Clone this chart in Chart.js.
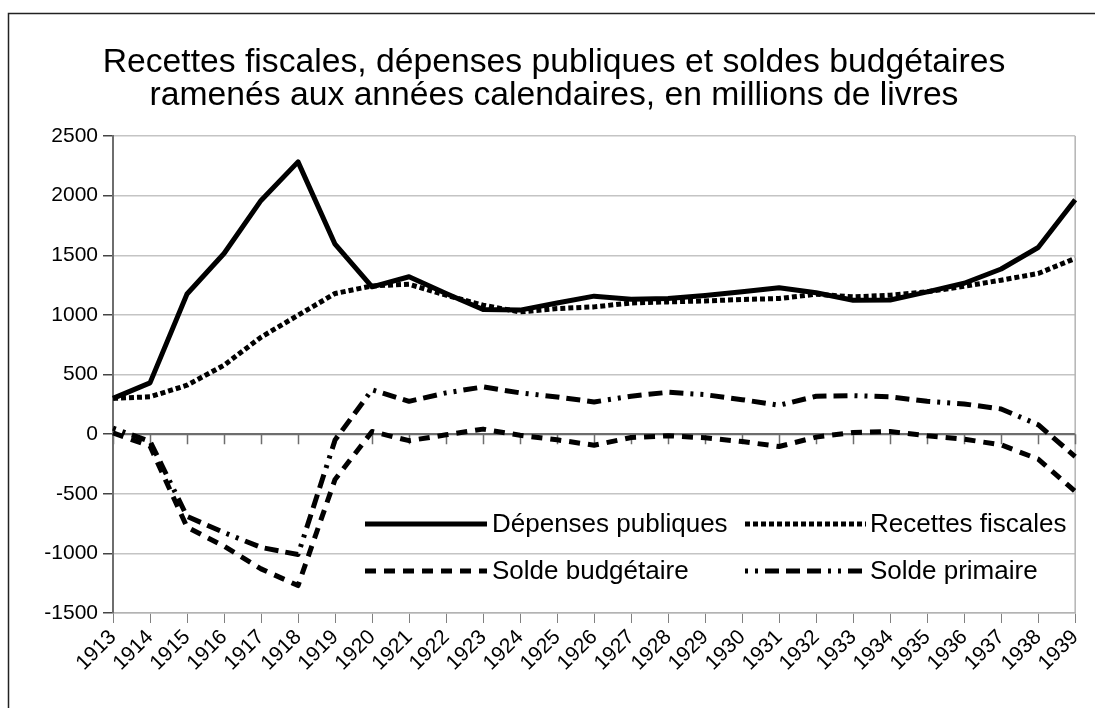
<!DOCTYPE html>
<html><head><meta charset="utf-8">
<script src="https://cdn.jsdelivr.net/npm/chart.js@4/dist/chart.umd.min.js"></script>
<style>html,body{margin:0;padding:0;background:#fff;overflow:hidden;}</style>
</head><body>
<canvas id="c" width="1095" height="708"></canvas>
<script>
const years = ['1913','1914','1915','1916','1917','1918','1919','1920','1921','1922','1923','1924','1925','1926','1927','1928','1929','1930','1931','1932','1933','1934','1935','1936','1937','1938','1939'];
const depenses = [300, 430, 1175, 1515, 1960, 2283, 1593, 1235, 1320, 1180, 1045, 1040, 1100, 1157, 1131, 1137, 1162, 1193, 1227, 1185, 1123, 1125, 1193, 1265, 1385, 1565, 1965];
const recettes = [300, 313, 410, 578, 813, 997, 1179, 1243, 1257, 1165, 1081, 1025, 1053, 1067, 1100, 1109, 1117, 1129, 1137, 1173, 1151, 1165, 1193, 1240, 1291, 1347, 1473];
const soldeBudgetaire = [10, -100, -780, -940, -1130, -1270, -380, 22, -55, -6, 42, -10, -48, -93, -28, -14, -31, -62, -104, -25, 14, 22, -14, -42, -90, -210, -480];
const soldePrimaire = [50, -60, -690, -825, -950, -1010, -50, 372, 275, 346, 396, 346, 312, 270, 318, 351, 331, 289, 242, 318, 323, 312, 275, 253, 211, 79, -188];
const seriesNames = ['Dépenses publiques', 'Recettes fiscales', 'Solde budgétaire', 'Solde primaire'];
const titleLines = ['Recettes fiscales, dépenses publiques et soldes budgétaires', 'ramenés aux années calendaires, en millions de livres'];
const yTicks = [-1500, -1000, -500, 0, 500, 1000, 1500, 2000, 2500];

const FONT = "'Liberation Sans', Arial, sans-serif";
const dashes = [[], [5, 3], [11, 8], [3, 7, 3, 7, 14, 7, 14, 7, 14, 7]];

const framePlugin = {
  id: 'frame',
  beforeDraw(chart) {
    const ctx = chart.ctx;
    ctx.save();
    ctx.fillStyle = '#fff';
    ctx.fillRect(0, 0, chart.width, chart.height);
    ctx.strokeStyle = '#222';
    ctx.lineWidth = 1.5;
    ctx.beginPath();
    ctx.moveTo(8.5, chart.height);
    ctx.lineTo(8.5, 13.5);
    ctx.lineTo(chart.width, 13.5);
    ctx.stroke();
    // title
    ctx.fillStyle = '#000';
    ctx.font = '33.7px ' + FONT;
    ctx.textAlign = 'center';
    ctx.textBaseline = 'middle';
    titleLines.forEach((t, i) => ctx.fillText(t, 554, 62.5 + i * 33));
    ctx.restore();
  },
  beforeDatasetsDraw(chart) {
    const ctx = chart.ctx, a = chart.chartArea, x = chart.scales.x, y = chart.scales.y;
    ctx.save();
    ctx.strokeStyle = '#b3b3b3';
    ctx.lineWidth = 1.5;
    ctx.beginPath();
    ctx.moveTo(a.right, a.top);
    ctx.lineTo(a.right, a.bottom);
    ctx.stroke();
    const y0 = y.getPixelForValue(0);
    ctx.strokeStyle = '#6e6e6e';
    ctx.lineWidth = 2;
    ctx.beginPath();
    ctx.moveTo(a.left, y0);
    ctx.lineTo(a.right, y0);
    ctx.stroke();
    ctx.lineWidth = 1.5;
    ctx.beginPath();
    for (let i = 0; i < years.length; i++) {
      const px = Math.round(x.getPixelForValue(i)) + 0.5;
      ctx.moveTo(px, y0);
      ctx.lineTo(px, y0 + 10);
    }
    ctx.stroke();
    ctx.restore();
  },
  afterDraw(chart) {
    const ctx = chart.ctx;
    ctx.save();
    ctx.font = '26px ' + FONT;
    ctx.textBaseline = 'middle';
    ctx.fillStyle = '#000';
    const cols = [[365, 487, 492], [745, 866, 870]];
    const rows = [524, 571];
    chart.data.datasets.forEach((ds, i) => {
      const c = cols[i % 2], r = rows[Math.floor(i / 2)];
      ctx.strokeStyle = ds.borderColor;
      ctx.lineWidth = ds.borderWidth;
      ctx.setLineDash(ds.borderDash || []);
      ctx.lineCap = 'butt';
      ctx.beginPath();
      ctx.moveTo(c[0], r);
      ctx.lineTo(c[1], r);
      ctx.stroke();
      ctx.setLineDash([]);
      ctx.fillText(ds.label, c[2], r + 1);
    });
    ctx.restore();
  }
};

const datasets = [depenses, recettes, soldeBudgetaire, soldePrimaire].map((d, i) => ({
  label: seriesNames[i],
  data: d,
  borderColor: '#000',
  backgroundColor: '#000',
  borderWidth: 5,
  borderDash: dashes[i],
  borderCapStyle: 'butt',
  borderJoinStyle: 'round',
  pointRadius: 0,
  tension: 0,
  fill: false
}));

new Chart(document.getElementById('c'), {
  type: 'line',
  data: { labels: years, datasets },
  options: {
    responsive: false,
    animation: false,
    devicePixelRatio: 1,
    layout: { padding: { left: 0, right: 16, top: 136, bottom: 0 } },
    plugins: {
      legend: { display: false },
      tooltip: { enabled: false },
      title: { display: false }
    },
    scales: {
      x: {
        offset: false,
        afterFit(s) { s.height = 95; },
        grid: { drawOnChartArea: false, tickLength: 10, color: '#808080', tickColor: '#808080', offset: false },
        border: { display: true, color: '#b3b3b3', width: 1.5 },
        ticks: { color: '#000', font: { family: FONT, size: 21 }, minRotation: 45, maxRotation: 45, autoSkip: false, padding: 2 }
      },
      y: {
        min: -1500, max: 2500,
        afterFit(s) { s.width = 113; },
        afterBuildTicks(s) { s.ticks = yTicks.map(v => ({ value: v })); },
        grid: {
          color: ctx => (ctx.tick && ctx.tick.value === 0) ? '#6e6e6e' : '#c4c4c4',
          lineWidth: 1.5,
          tickLength: 10,
          tickColor: '#444'
        },
        border: { display: true, color: '#6e6e6e', width: 2 },
        ticks: { color: '#000', font: { family: FONT, size: 21 }, padding: 5, callback: v => String(v) }
      }
    }
  },
  plugins: [framePlugin]
});
</script>
</body></html>
